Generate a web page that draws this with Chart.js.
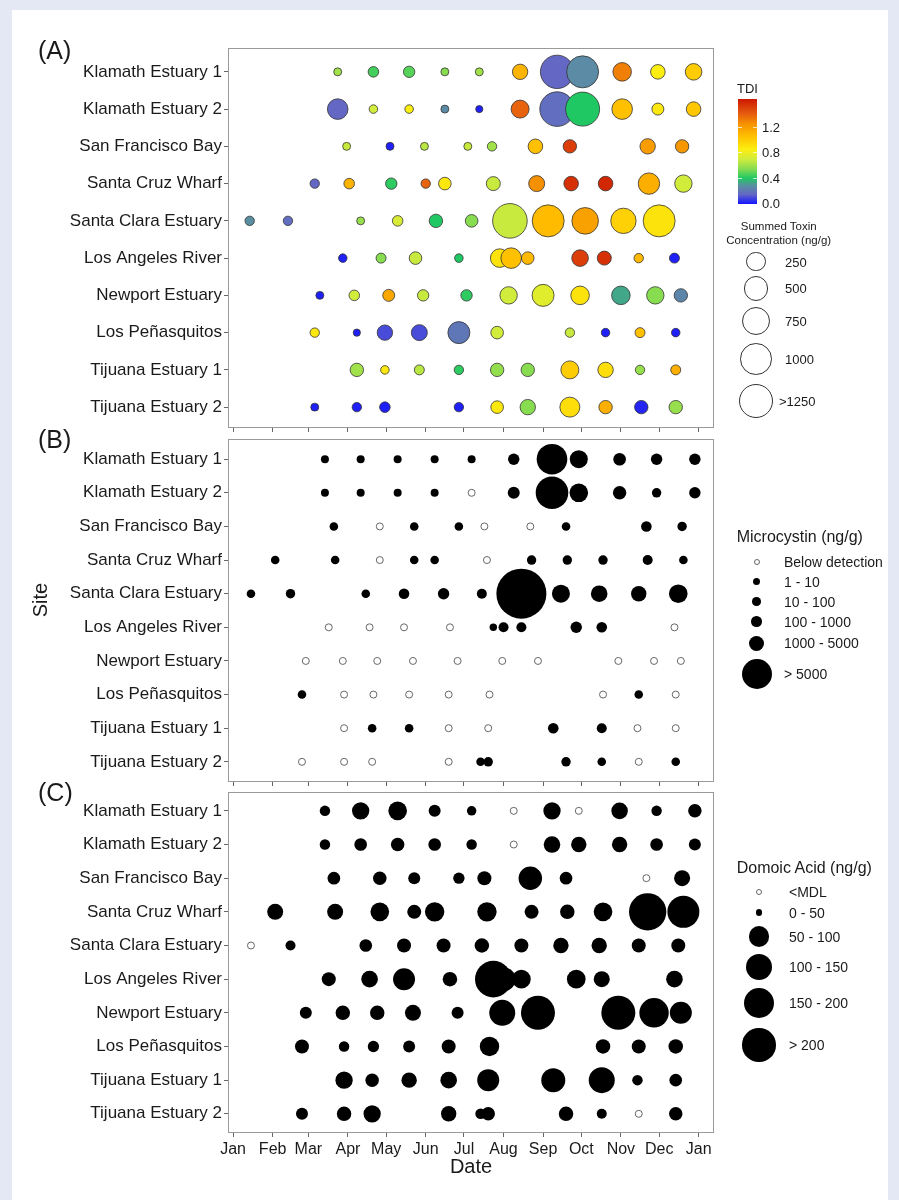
<!DOCTYPE html>
<html>
<head>
<meta charset="utf-8">
<script src="https://cdn.jsdelivr.net/npm/chart.js@4.4.1/dist/chart.umd.min.js"></script>
<style>
  body { margin: 0; background: #e4e8f5; font-family: "Liberation Sans", Arial, sans-serif; color: #1a1a1a; }
  #wrap { position: relative; width: 899px; height: 1200px; overflow: hidden; }
  #page { position: absolute; left: 12px; top: 10px; width: 876px; height: 1190px; background: #fff; }
  canvas { position: absolute; left: 0; }
  .t { position: absolute; white-space: nowrap; transform: translateY(-50%); line-height: 1; }
  .dot { position: absolute; border-radius: 50%; box-sizing: border-box; }
</style>
</head>
<body>
<div id="wrap">
  <div id="page"></div>
  <canvas id="cA" width="899" height="400" style="top:40px"></canvas>
  <canvas id="cB" width="899" height="356" style="top:434px"></canvas>
  <canvas id="cC" width="899" height="412" style="top:788px"></canvas>
  <div id="legends"></div>
</div>
<script>
// sites, top to bottom
const sites = ['Klamath Estuary 1', 'Klamath Estuary 2', 'San Francisco Bay', 'Santa Cruz Wharf',
  'Santa Clara Estuary', 'Los Angeles River', 'Newport Estuary', 'Los Peñasquitos',
  'Tijuana Estuary 1', 'Tijuana Estuary 2'];

// month ticks (day of year)
const monthDays = [0, 31, 59, 90, 120, 151, 181, 212, 243, 273, 304, 334, 365];
const monthLabels = ['Jan', 'Feb', 'Mar', 'Apr', 'May', 'Jun', 'Jul', 'Aug', 'Sep', 'Oct', 'Nov', 'Dec', 'Jan'];

// (A) sampling day, summed toxin (ng/g), TDI
const daysA = [
  [82, 110, 138, 166, 193, 225, 254, 274, 305, 333, 361],
  [82, 110, 138, 166, 193, 225, 254, 274, 305, 333, 361],
  [89, 123, 150, 184, 203, 237, 264, 325, 352],
  [64, 91, 124, 151, 166, 204, 238, 265, 292, 326, 353],
  [13, 43, 100, 129, 159, 187, 217, 247, 276, 306, 334],
  [86, 116, 143, 177, 209, 218, 231, 272, 291, 318, 346],
  [68, 95, 122, 149, 183, 216, 243, 272, 304, 331, 351],
  [64, 97, 119, 146, 177, 207, 264, 292, 319, 347],
  [97, 119, 146, 177, 207, 231, 264, 292, 319, 347],
  [64, 97, 119, 177, 207, 231, 264, 292, 320, 347]
];
const toxinA = [
  [1, 19, 29, 1, 1, 112, 1143, 1024, 216, 91, 147],
  [299, 3, 3, 1, 0, 194, 1250, 1196, 299, 38, 91],
  [1, 1, 1, 1, 8, 91, 64, 112, 64],
  [8, 19, 29, 8, 49, 77, 129, 91, 91, 336, 173],
  [8, 8, 1, 19, 64, 49, 1250, 1024, 627, 551, 1024],
  [3, 13, 49, 3, 216, 299, 49, 147, 77, 8, 13],
  [1, 19, 38, 29, 29, 173, 365, 216, 216, 173, 64],
  [8, 0, 112, 129, 365, 49, 8, 3, 13, 3],
  [64, 3, 13, 8, 64, 64, 194, 112, 8, 13],
  [1, 8, 19, 8, 49, 112, 273, 64, 64, 64]
];
const tdiA = [
  [0.6, 0.45, 0.48, 0.55, 0.6, 1.1, 0.15, 0.27, 1.3, 0.85, 1.0],
  [0.15, 0.7, 0.85, 0.27, 0.02, 1.38, 0.17, 0.4, 1.05, 0.88, 1.02],
  [0.68, 0.02, 0.65, 0.68, 0.6, 1.05, 1.5, 1.2, 1.22],
  [0.15, 1.1, 0.42, 1.38, 0.88, 0.68, 1.25, 1.55, 1.58, 1.12, 0.7],
  [0.28, 0.17, 0.58, 0.72, 0.4, 0.55, 0.68, 1.07, 1.18, 0.98, 0.9],
  [0.02, 0.55, 0.68, 0.4, 0.9, 1.05, 1.08, 1.5, 1.55, 1.08, 0.02],
  [0.02, 0.7, 1.15, 0.68, 0.42, 0.7, 0.75, 0.9, 0.33, 0.55, 0.25],
  [0.88, 0.02, 0.1, 0.1, 0.2, 0.7, 0.68, 0.02, 1.05, 0.02],
  [0.6, 0.88, 0.65, 0.42, 0.57, 0.55, 1.0, 0.92, 0.58, 1.12],
  [0.02, 0.02, 0.02, 0.02, 0.88, 0.55, 0.92, 1.12, 0.03, 0.58]
];

// (B) and (C) sampling day; microcystin and domoic acid (ng/g), 0 = below detection
const daysBC = [
  [72, 100, 129, 158, 187, 220, 250, 271, 303, 332, 362],
  [72, 100, 129, 158, 187, 220, 250, 271, 303, 332, 362],
  [79, 115, 142, 177, 197, 233, 261, 324, 352],
  [33, 80, 115, 142, 158, 199, 234, 262, 290, 325, 353],
  [14, 45, 104, 134, 165, 195, 226, 257, 287, 318, 349],
  [75, 107, 134, 170, 204, 212, 226, 269, 289, 346],
  [57, 86, 113, 141, 176, 211, 239, 302, 330, 351],
  [54, 87, 110, 138, 169, 201, 290, 318, 347],
  [87, 109, 138, 169, 200, 251, 289, 317, 347],
  [54, 87, 109, 169, 194, 200, 261, 289, 318, 347]
];
const mcB = [
  [11, 11, 11, 11, 11, 215, 6188, 1344, 348, 215, 215],
  [11, 11, 11, 11, 0, 278, 7282, 1495, 455, 64, 215],
  [28, 0, 28, 28, 0, 0, 28, 144, 64],
  [28, 28, 0, 28, 28, 0, 64, 64, 64, 100, 28],
  [28, 64, 28, 144, 215, 100, 20544, 1344, 1024, 784, 1495],
  [0, 0, 0, 0, 2, 100, 100, 215, 144, 0],
  [0, 0, 0, 0, 0, 0, 0, 0, 0, 0],
  [28, 0, 0, 0, 0, 0, 0, 28, 0],
  [0, 28, 28, 0, 0, 144, 100, 0, 0],
  [0, 0, 0, 0, 28, 64, 64, 28, 0, 28]
];
const daC = [
  [5, 32, 40, 9, 3, 0, 32, 0, 28, 5, 14],
  [5, 11, 14, 11, 5, 0, 28, 22, 22, 11, 9],
  [11, 14, 9, 7, 16, 76, 11, 0, 25],
  [25, 25, 40, 16, 45, 45, 16, 18, 40, 246, 169],
  [0, 4, 11, 16, 16, 18, 16, 22, 22, 16, 16],
  [16, 28, 64, 18, 234, 81, 40, 40, 25, 28],
  [9, 18, 18, 25, 9, 100, 196, 196, 137, 64],
  [16, 5, 7, 9, 16, 45, 18, 16, 18],
  [32, 14, 22, 28, 64, 81, 100, 5, 11],
  [9, 18, 32, 22, 5, 14, 18, 4, 0, 14]
];

// legend entries
const tdiTicks = [0.0, 0.4, 0.8, 1.2];
const toxinLegend = [250, 500, 750, 1000, 1250];
const toxinLegendLabels = ['250', '500', '750', '1000', '>1250'];
const mcLegendLabels = ['Below detection', '1 - 10', '10 - 100', '100 - 1000', '1000 - 5000', '> 5000'];
const daLegendLabels = ['<MDL', '0 - 50', '50 - 100', '100 - 150', '150 - 200', '> 200'];

// colour scale for TDI
const tdiStops = [[0, '#1414ff'], [0.15, '#6468c4'], [0.28, '#5a8ea2'], [0.4, '#20c864'], [0.55, '#88dc50'],
  [0.7, '#d2ec3c'], [0.85, '#fcee10'], [1.05, '#ffc000'], [1.25, '#f59000'], [1.4, '#e65c10'], [1.63, '#cc1800']];
const TDI_MAX = 1.63;

function hex(h) { return [1, 3, 5].map(i => parseInt(h.substr(i, 2), 16)); }
function mix(a, b, t) {
  const A = hex(a), B = hex(b);
  return 'rgb(' + A.map((c, i) => Math.round(c + (B[i] - c) * t)).join(',') + ')';
}
function tdiColor(v) {
  const s = tdiStops;
  if (v <= s[0][0]) return s[0][1];
  for (let i = 1; i < s.length; i++) {
    if (v <= s[i][0]) return mix(s[i - 1][1], s[i][1], (v - s[i - 1][0]) / (s[i][0] - s[i - 1][0]));
  }
  return s[s.length - 1][1];
}

// size scales
function rA(v) { return 3.6 + 13.7 * Math.sqrt(Math.min(v, 1250) / 1250); }
function rB(v) { return v > 0 ? 3.5 + 0.15 * Math.sqrt(v) : 3.5; }
function rC(v) { return v > 0 ? 3 + Math.sqrt(v) : 3.5; }

function points(days, vals, rf) {
  const pts = [];
  days.forEach((row, i) => row.forEach((d, j) => pts.push({ x: d, y: i, r: rf(vals[i][j]), v: vals[i][j] })));
  return pts;
}

Chart.defaults.font.family = '"Liberation Sans", Arial, sans-serif';
Chart.defaults.color = '#1a1a1a';

const boxPlugin = {
  id: 'box',
  beforeDatasetsDraw(chart) {
    const { ctx, chartArea: a } = chart;
    ctx.save();
    ctx.strokeStyle = '#9a9a9a';
    ctx.lineWidth = 1;
    ctx.strokeRect(Math.round(a.left) + 0.5, Math.round(a.top) + 0.5, Math.round(a.right - a.left) - 1, Math.round(a.bottom - a.top) - 1);
    ctx.restore();
  }
};

function panel(id, dataset, yMin, yMax, pad, xExtra) {
  const x = {
    type: 'linear', min: -4, max: 377,
    afterBuildTicks: a => { a.ticks = monthDays.map(v => ({ value: v })); },
    afterFit: s => { s.height = 6; s.paddingLeft = 0; s.paddingRight = 0; },
    ticks: { display: false },
    grid: { drawOnChartArea: false, tickLength: 4, color: '#666' },
    border: { display: false }
  };
  Object.assign(x, xExtra || {});
  return new Chart(document.getElementById(id), {
    type: 'bubble',
    data: { datasets: [dataset] },
    options: {
      responsive: false, animation: false, events: [],
      layout: { padding: pad, autoPadding: false },
      plugins: { legend: { display: false }, tooltip: { enabled: false } },
      scales: {
        x: x,
        y: {
          type: 'linear', reverse: true, min: yMin, max: yMax,
          afterBuildTicks: a => { a.ticks = sites.map((s, i) => ({ value: i })); },
          afterFit: s => { s.width = 228; s.paddingTop = 0; s.paddingBottom = 0; },
          ticks: { callback: v => sites[v], font: { size: 17 }, color: '#1a1a1a', padding: 2, autoSkip: false },
          grid: { drawOnChartArea: false, tickLength: 4, color: '#666' },
          border: { display: false }
        }
      }
    },
    plugins: [boxPlugin]
  });
}

// (A)
const ptsA = points(daysA, toxinA, rA);
const colA = [];
tdiA.forEach(row => row.forEach(v => colA.push(tdiColor(v))));
panel('cA', { data: ptsA, backgroundColor: colA, borderColor: '#333', borderWidth: 0.8 },
  -0.64, 9.56, { left: 0, right: 185, top: 8, bottom: 6 });

// (B)
const ptsB = points(daysBC, mcB, rB);
panel('cB', {
  data: ptsB,
  backgroundColor: ptsB.map(p => p.v > 0 ? '#000' : '#fff'),
  borderColor: ptsB.map(p => p.v > 0 ? '#000' : '#666'),
  borderWidth: ptsB.map(p => p.v > 0 ? 0 : 1)
}, -0.6, 9.6, { left: 0, right: 185, top: 5, bottom: 2 });

// (C)
const ptsC = points(daysBC, daC, rC);
panel('cC', {
  data: ptsC,
  backgroundColor: ptsC.map(p => p.v > 0 ? '#000' : '#fff'),
  borderColor: ptsC.map(p => p.v > 0 ? '#000' : '#666'),
  borderWidth: ptsC.map(p => p.v > 0 ? 0 : 1)
}, -0.56, 9.57, { left: 0, right: 185, top: 4, bottom: 17 }, {
  afterFit: s => { s.height = 50; s.paddingLeft = 0; s.paddingRight = 0; },
  ticks: {
    display: true, autoSkip: false, maxRotation: 0, padding: 3,
    font: { size: 16 }, color: '#1a1a1a',
    callback: (v, i) => monthLabels[i]
  },
  title: { display: true, text: 'Date', font: { size: 20 }, color: '#1a1a1a', padding: { top: 0, bottom: 4 } }
});

// legends and panel labels (HTML)
const L = document.getElementById('legends');
function text(str, x, y, size, extra) {
  const d = document.createElement('div');
  d.className = 't';
  d.textContent = str;
  d.style.left = x + 'px';
  d.style.top = y + 'px';
  d.style.fontSize = size + 'px';
  if (extra) Object.assign(d.style, extra);
  L.appendChild(d);
  return d;
}
function dot(cx, cy, r, fill, stroke) {
  const d = document.createElement('div');
  d.className = 'dot';
  d.style.left = (cx - r) + 'px';
  d.style.top = (cy - r) + 'px';
  d.style.width = (2 * r) + 'px';
  d.style.height = (2 * r) + 'px';
  d.style.background = fill;
  d.style.border = stroke ? '1px solid ' + stroke : 'none';
  L.appendChild(d);
}

text('(A)', 38, 50, 25);
text('(B)', 38, 439, 25);
text('(C)', 38, 792, 25);
text('Site', 40, 600, 20, { transform: 'translate(-50%,-50%) rotate(-90deg)' });

// TDI colour bar
const barTop = 99, barBottom = 204, zeroY = 203, perUnit = 25.5 / 0.4;
const bar = document.createElement('div');
bar.style.cssText = 'position:absolute;left:738px;width:19px;top:' + barTop + 'px;height:' + (barBottom - barTop) + 'px;';
bar.style.background = 'linear-gradient(to top,' + tdiStops.map(s => s[1] + ' ' + (s[0] / TDI_MAX * 100).toFixed(1) + '%').join(',') + ')';
L.appendChild(bar);
text('TDI', 737, 88, 13);
tdiTicks.forEach(v => {
  const y = zeroY - v * perUnit;
  text(v.toFixed(1), 762, y, 13);
  if (v > 0) {
    ['738px', '753px'].forEach(lx => {
      const tk = document.createElement('div');
      tk.style.cssText = 'position:absolute;width:4px;height:1px;background:rgba(255,255,255,0.7);left:' + lx + ';top:' + Math.round(y) + 'px;';
      L.appendChild(tk);
    });
  }
});
text('Summed Toxin', 778.7, 227, 11.5, { transform: 'translate(-50%,-50%)' });
text('Concentration (ng/g)', 778.7, 240.7, 11.5, { transform: 'translate(-50%,-50%)' });
const toxinY = [261.7, 288.3, 321, 359, 401];
toxinLegend.forEach((v, i) => {
  dot(756, toxinY[i], rA(v), '#fff', '#333');
  text(toxinLegendLabels[i], i === 4 ? 779 : 785, toxinY[i], 13);
});

// Microcystin legend
text('Microcystin (ng/g)', 736.7, 536.7, 16);
const mcY = [561.7, 581.7, 601.7, 621.7, 643.3, 674];
const mcR = [3, 3.7, 4.3, 5.3, 7.7, 15];
mcLegendLabels.forEach((lab, i) => {
  if (i === 0) dot(756.7, mcY[i], mcR[i], '#fff', '#666');
  else dot(756.7, mcY[i], mcR[i], '#000');
  text(lab, 784, mcY[i], 14);
});

// Domoic acid legend
text('Domoic Acid (ng/g)', 736.7, 868.3, 16);
const daY = [892.3, 912.7, 936.7, 966.7, 1003.3, 1045];
const daR = [3, 3.3, 10.3, 13, 15, 16.7];
daLegendLabels.forEach((lab, i) => {
  if (i === 0) dot(759, daY[i], daR[i], '#fff', '#666');
  else dot(759, daY[i], daR[i], '#000');
  text(lab, 789, daY[i], 14);
});
</script>
</body>
</html>
